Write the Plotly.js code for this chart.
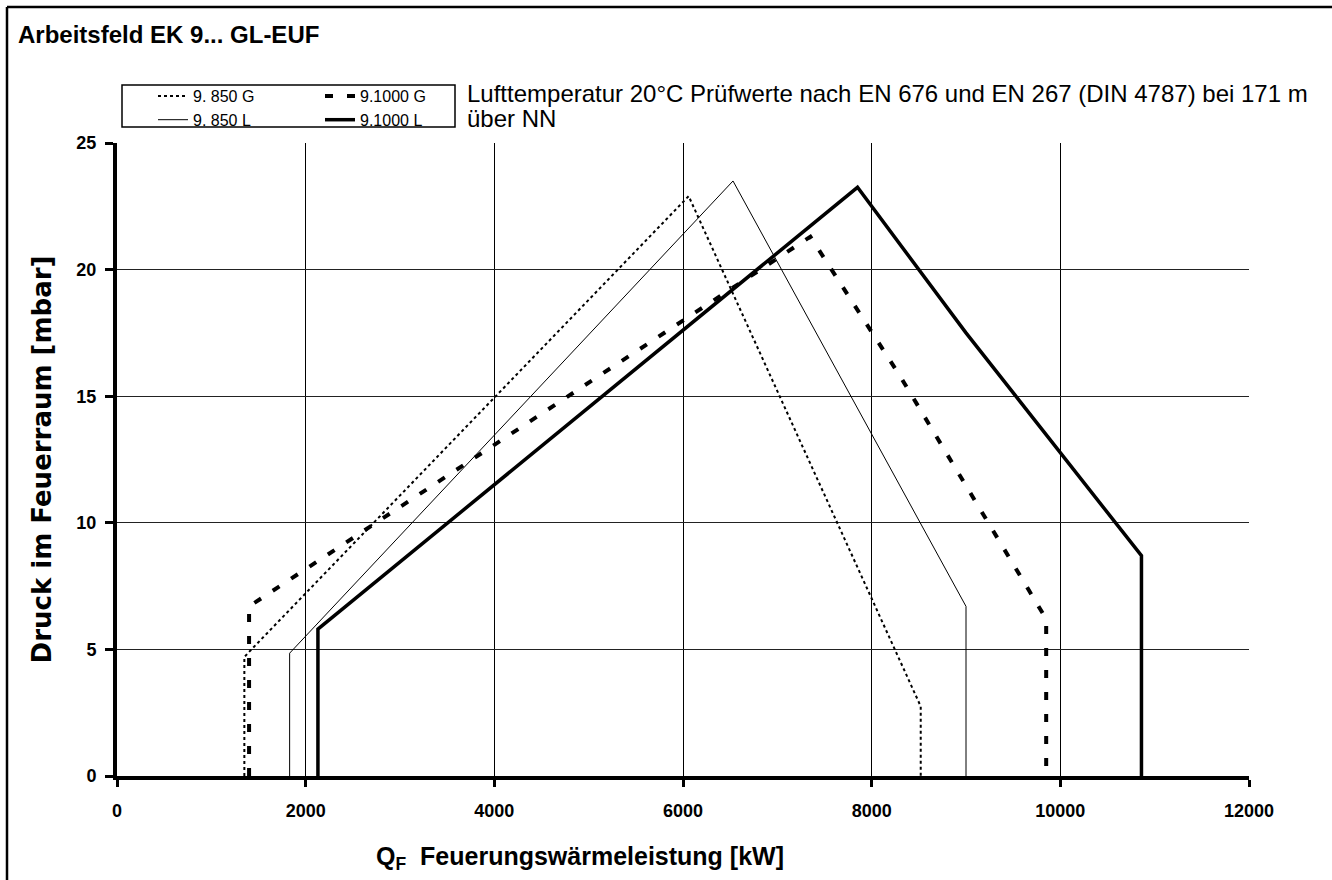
<!DOCTYPE html>
<html>
<head>
<meta charset="utf-8">
<script src="https://cdn.plot.ly/plotly-3.0.1.min.js"></script>
<style>html,body{margin:0;padding:0;background:#fff;}#chart{width:1332px;height:880px;}</style>
</head>
<body>
<div id="chart"></div>
<script>
// ---- data ----
const seriesNames = ["9. 850 G", "9. 850 L", "9.1000 G", "9.1000 L"];
const g850_x  = [1350, 1350, 1400, 6060, 8520, 8520];
const g850_y  = [0, 4.7, 4.9, 22.9, 2.75, 0];
const l850_x  = [1830, 1830, 6530, 9000, 9000];
const l850_y  = [0, 4.85, 23.5, 6.7, 0];
const g1000_x = [1400, 1400, 7350, 8300, 9850, 9850];
const g1000_y = [0, 6.7, 21.3, 15.8, 6.2, 0];
const l1000_x = [2130, 2130, 7850, 9000, 10860, 10860];
const l1000_y = [0, 5.8, 23.25, 17.5, 8.7, 0];
const xTicks = [0, 2000, 4000, 6000, 8000, 10000, 12000];
const yTicks = [0, 5, 10, 15, 20, 25];
const noteLines = ["Lufttemperatur 20°C Prüfwerte nach EN 676 und EN 267 (DIN 4787) bei 171 m", "über NN"];

const FONT = "Liberation Sans, Arial, Helvetica, sans-serif";

const traces = [
  {x: g850_x, y: g850_y, name: seriesNames[0], mode: "lines", legend: "legend",
   line: {color: "#000", width: 2, dash: "dot"}},
  {x: l850_x, y: l850_y, name: seriesNames[1], mode: "lines", legend: "legend",
   line: {color: "#000", width: 1}},
  {x: g1000_x, y: g1000_y, name: seriesNames[2], mode: "lines", legend: "legend2",
   line: {color: "#000", width: 4, dash: "8px,14px"}},
  {x: l1000_x, y: l1000_y, name: seriesNames[3], mode: "lines", legend: "legend2",
   line: {color: "#000", width: 3.5}}
];

// pixel helpers for decorations (plot area: x 117..1249, y 143..776)
const L = 117, R = 1249, T = 143, B = 776;
const px = v => (v - L) / (R - L);
const py = v => (B - v) / (B - T);

const legendCommon = {
  xanchor: "left", yanchor: "top", bgcolor: "rgba(0,0,0,0)", borderwidth: 0,
  font: {family: FONT, size: 16, color: "#000"}, tracegroupgap: 0, itemclick: false
};

const layout = {
  width: 1332, height: 880,
  margin: {l: L, r: 1332 - R, t: T, b: 880 - B, pad: 0},
  paper_bgcolor: "#fff", plot_bgcolor: "#fff",
  font: {family: FONT, color: "#000"},
  title: {text: "Arbeitsfeld EK 9... GL-EUF", xref: "container", yref: "container",
          x: 18 / 1332, xanchor: "left", y: 1 - 35 / 880, yanchor: "middle",
          font: {family: FONT, size: 24, weight: "bold", color: "#000"}},
  showlegend: true,
  legend: Object.assign({x: px(153), y: py(79)}, legendCommon),
  legend2: Object.assign({x: px(320), y: py(79)}, legendCommon),
  xaxis: {
    range: [0, 12000], tickvals: xTicks, ticktext: xTicks.map(String),
    showgrid: true, gridcolor: "#000", gridwidth: 1, zeroline: false,
    showline: true, linecolor: "#000", linewidth: 4,
    ticks: "outside", ticklen: 7, tickwidth: 3, tickcolor: "#000",
    ticklabelstandoff: 8,
    tickfont: {family: FONT, size: 18, weight: "bold", color: "#000"},
    fixedrange: true
  },
  yaxis: {
    range: [0, 25], tickvals: yTicks, ticktext: yTicks.map(String),
    showgrid: true, gridcolor: "#222", gridwidth: 1, zeroline: false,
    showline: true, linecolor: "#000", linewidth: 4,
    ticks: "outside", ticklen: 8, tickwidth: 3, tickcolor: "#000",
    ticklabelstandoff: 5,
    tickfont: {family: FONT, size: 18, weight: "bold", color: "#000"},
    title: {text: "Druck im Feuerraum [mbar]", standoff: 18,
            font: {family: "DejaVu Sans, " + FONT, size: 26, weight: "bold", color: "#000"}},
    fixedrange: true
  },
  shapes: [
    // legend frame
    {type: "rect", xref: "paper", yref: "paper", x0: px(122), x1: px(455), y0: py(127), y1: py(85),
     line: {color: "#000", width: 1.5}, fillcolor: "rgba(0,0,0,0)"},
    // outer frame (top and left)
    {type: "line", xref: "paper", yref: "paper", x0: px(7), x1: px(1332), y0: py(7), y1: py(7),
     line: {color: "#000", width: 2.5}},
    {type: "line", xref: "paper", yref: "paper", x0: px(7), x1: px(7), y0: py(7), y1: py(880),
     line: {color: "#000", width: 2.5}}
  ],
  annotations: [
    {xref: "paper", yref: "paper", x: px(465), y: py(93), xanchor: "left", yanchor: "middle",
     align: "left", showarrow: false, text: noteLines[0],
     font: {family: FONT, size: 24, color: "#000"}},
    {xref: "paper", yref: "paper", x: px(465), y: py(118), xanchor: "left", yanchor: "middle",
     align: "left", showarrow: false, text: noteLines[1],
     font: {family: FONT, size: 24, color: "#000"}},
    {xref: "paper", yref: "paper", x: px(580), y: py(858), xanchor: "center", yanchor: "middle",
     showarrow: false,
     text: "Q<sub>F</sub>  Feuerungswärmeleistung [kW]",
     font: {family: FONT, size: 25, weight: "bold", color: "#000"}}
  ]
};

Plotly.newPlot("chart", traces, layout, {displayModeBar: false, staticPlot: true});
</script>
</body>
</html>
